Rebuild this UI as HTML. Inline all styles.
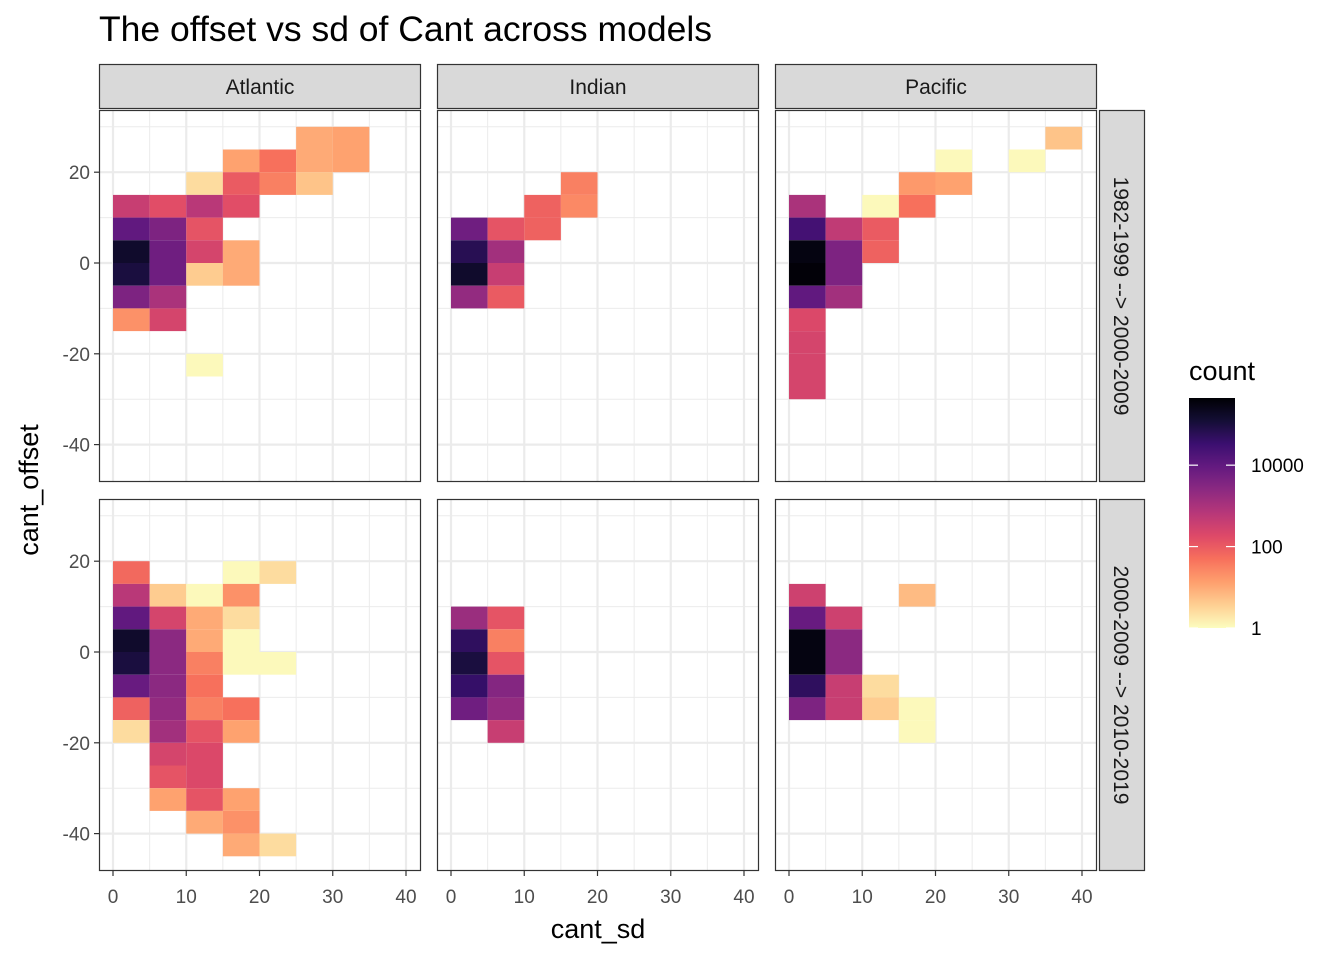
<!DOCTYPE html>
<html><head><meta charset="utf-8">
<style>
html,body{margin:0;padding:0;background:#fff;}
svg{display:block;font-family:"Liberation Sans",sans-serif;}
</style></head>
<body>
<svg id="chart" width="1344" height="960" viewBox="0 0 1344 960">
<defs>
<linearGradient id="leg" x1="0" y1="1" x2="0" y2="0"></linearGradient>
</defs>
<text x="99" y="41" font-size="35.5" fill="#000">The offset vs sd of Cant across models</text>
<text x="598" y="938" font-size="27" text-anchor="middle" fill="#000">cant_sd</text>
<text transform="translate(38,490) rotate(-90)" font-size="27" text-anchor="middle" fill="#000">cant_offset</text>
<g id="panels"></g>
<g id="legend"></g>
</svg>
<script>
// ---- data (x bin start, y bin start, log10(count)) ----
const basins = ["Atlantic","Indian","Pacific"];
const periods = ["1982-1999 --> 2000-2009","2000-2009 --> 2010-2019"];
const xTicks = [0,10,20,30,40];
const yTicks = [20,0,-20,-40];
const legendTicks = [1,100,10000];

const atlTopX = [25,30,15,20,25,30,10,15,20,25,0,5,10,15,0,5,10,0,5,10,15,0,5,10,15,0,5,0,5,10];
const atlTopY = [25,25,20,20,20,20,15,15,15,15,10,10,10,10,5,5,5,0,0,0,0,-5,-5,-5,-5,-10,-10,-15,-15,-25];
const atlTopV = [1.0,1.1,1.1,1.7,1.0,1.1,0.4,2.0,1.5,0.7,2.6,2.2,2.8,2.2,4.0,3.6,2.1,5.2,3.8,2.4,1.0,5.0,3.8,0.6,1.0,3.6,3.0,1.3,2.4,0.05];

const indTopX = [15,10,15,0,5,10,0,5,0,5,0,5];
const indTopY = [15,10,10,5,5,5,0,0,-5,-5,-10,-10];
const indTopV = [1.5,1.9,1.4,3.8,2.1,1.9,4.8,3.1,5.2,2.6,3.3,2.0];

const pacTopX = [35,20,30,15,20,0,10,15,0,5,10,0,5,10,0,5,0,5,0,0,0,0];
const pacTopY = [25,20,20,15,15,10,10,10,5,5,5,0,0,0,-5,-5,-10,-10,-15,-20,-25,-30];
const pacTopV = [0.7,0.05,0.05,1.2,1.1,3.0,0.05,1.7,4.4,2.7,2.0,5.5,3.6,1.9,5.6,3.6,4.0,3.1,2.3,2.4,2.4,2.4];

const atlBotX = [0,15,20,0,5,10,15,0,5,10,15,0,5,10,15,0,5,10,15,20,0,5,10,0,5,10,15,0,5,10,15,5,10,5,10,5,10,15,10,15,15,20];
const atlBotY = [15,15,15,10,10,10,10,5,5,5,5,0,0,0,0,-5,-5,-5,-5,-5,-10,-10,-10,-15,-15,-15,-15,-20,-20,-20,-20,-25,-25,-30,-30,-35,-35,-35,-40,-40,-45,-45];
const atlBotV = [1.8,0.05,0.4,2.8,0.6,0.05,1.3,4.0,2.4,1.0,0.4,5.2,3.4,1.0,0.05,5.0,3.4,1.5,0.05,0.05,3.9,3.4,1.7,1.9,3.3,1.5,1.7,0.4,3.1,2.1,1.1,2.4,2.3,2.1,2.3,1.1,2.1,1.1,1.0,1.3,1.0,0.4];

const indBotX = [0,5,0,5,0,5,0,5,0,5,5];
const indBotY = [5,5,0,0,-5,-5,-10,-10,-15,-15,-20];
const indBotV = [3.2,2.1,4.7,1.5,5.0,2.1,4.6,3.5,3.8,3.3,2.6];

const pacBotX = [0,15,0,5,0,5,0,5,0,5,10,0,5,10,15,15];
const pacBotY = [10,10,5,5,0,0,-5,-5,-10,-10,-10,-15,-15,-15,-15,-20];
const pacBotV = [2.5,0.8,3.9,2.5,5.5,3.4,5.5,3.4,4.7,2.6,0.4,3.6,2.6,0.6,0.05,0.05];

const panelData = [
  [[atlTopX,atlTopY,atlTopV],[indTopX,indTopY,indTopV],[pacTopX,pacTopY,pacTopV]],
  [[atlBotX,atlBotY,atlBotV],[indBotX,indBotY,indBotV],[pacBotX,pacBotY,pacBotV]]
];

// ---- scales ----
const NS="http://www.w3.org/2000/svg";
const magma=["#fcfdbf","#fecf92","#fe9f6d","#f7705c","#de4968","#b73779","#8c2981","#641a80","#3b0f70","#140e36","#000004"];
const VMAX=5.65;
function hex(c){return [parseInt(c.slice(1,3),16),parseInt(c.slice(3,5),16),parseInt(c.slice(5,7),16)];}
function color(v){
  let t=Math.max(0,Math.min(1,v/VMAX))*(magma.length-1);
  let i=Math.min(Math.floor(t),magma.length-2),f=t-i;
  let a=hex(magma[i]),b=hex(magma[i+1]);
  return "rgb("+a.map((x,k)=>Math.round(x+(b[k]-x)*f)).join(",")+")";
}
const panelX=[99,437,775], panelW=322;
const panelY=[110,499], panelH=372;
function xs(p,v){return panelX[p]+14+v*7.325;}
function ys(r,v){return (r===0?263:652)-v*4.54;}
function el(tag,attrs,parent){const e=document.createElementNS(NS,tag);for(const k in attrs)e.setAttribute(k,attrs[k]);parent.appendChild(e);return e;}

const G=document.getElementById("panels");
basins.forEach((b,p)=>{
  const s=el("rect",{x:panelX[p]+0.5,y:64.5,width:panelW-1,height:44,fill:"#d9d9d9",stroke:"#333","stroke-width":1.2},G);
  
  
  const t=el("text",{x:panelX[p]+panelW/2,y:94,"font-size":21,"text-anchor":"middle",fill:"#1a1a1a"},G);
  t.textContent=b;
  
  
});
periods.forEach((pd,r)=>{
  const s=el("rect",{x:1099.5,y:panelY[r]+0.5,width:45,height:panelH-1,fill:"#d9d9d9",stroke:"#333","stroke-width":1.2},G);
  
  
  const cy=panelY[r]+panelH/2;
  const t=el("text",{transform:"translate(1114,"+cy+") rotate(90)","font-size":21,"text-anchor":"middle",fill:"#1a1a1a"},G);
  t.textContent=pd;
  
  
});

for(let r=0;r<2;r++){
  for(let p=0;p<3;p++){
    const g=el("g",{},G);
    
    
    const x0=panelX[p],y0=panelY[r];
    el("rect",{x:x0,y:y0,width:panelW,height:panelH,fill:"#fff"},g);
    for(let v=5;v<=35;v+=10) el("line",{x1:xs(p,v),x2:xs(p,v),y1:y0,y2:y0+panelH,stroke:"#ebebeb","stroke-width":1},g);
    for(let v=30;v>=-50;v-=20){const y=ys(r,v);if(y>y0&&y<y0+panelH)el("line",{x1:x0,x2:x0+panelW,y1:y,y2:y,stroke:"#ebebeb","stroke-width":1},g);}
    xTicks.forEach(v=>el("line",{x1:xs(p,v),x2:xs(p,v),y1:y0,y2:y0+panelH,stroke:"#ebebeb","stroke-width":2.2},g));
    yTicks.forEach(v=>el("line",{x1:x0,x2:x0+panelW,y1:ys(r,v),y2:ys(r,v),stroke:"#ebebeb","stroke-width":2.2},g));
    const [X,Y,V]=panelData[r][p];
    for(let i=0;i<X.length;i++){
      const rx=xs(p,X[i]),ry=ys(r,Y[i]+5);
      const t=el("rect",{x:rx,y:ry,width:xs(p,X[i]+5)-rx,height:ys(r,Y[i])-ry,fill:color(V[i])},g);
      
      
    }
    el("rect",{x:x0+0.5,y:y0+0.5,width:panelW-1,height:panelH-1,fill:"none",stroke:"#333","stroke-width":1.2},g);
    if(r===1){
      xTicks.forEach(v=>{
        el("line",{x1:xs(p,v),x2:xs(p,v),y1:y0+panelH,y2:y0+panelH+5,stroke:"#333","stroke-width":1.2},g);
        const t=el("text",{x:xs(p,v),y:903,"font-size":19,"text-anchor":"middle",fill:"#4d4d4d"},g);
        t.textContent=v;
        
        
      });
    }
    if(p===0){
      yTicks.forEach(v=>{
        el("line",{x1:x0-5,x2:x0,y1:ys(r,v),y2:ys(r,v),stroke:"#333","stroke-width":1.2},g);
        const t=el("text",{x:x0-9,y:ys(r,v)+7,"font-size":19,"text-anchor":"end",fill:"#4d4d4d"},g);
        t.textContent=v;
        
        
      });
    }
  }
}

const grad=document.getElementById("leg");
for(let i=0;i<=20;i++){el("stop",{offset:(i/20),"stop-color":color(VMAX*i/20)},grad);}
const L=document.getElementById("legend");
const lt=el("text",{x:1189,y:380,"font-size":27,fill:"#000"},L);
lt.textContent="count";


const bar=el("rect",{x:1189,y:398,width:46,height:230,fill:"url(#leg)"},L);


function ly(c){return 628-Math.log10(c)*(230/VMAX);}
legendTicks.forEach(c=>{
  const y=ly(c);
  el("line",{x1:1189,x2:1198,y1:y,y2:y,stroke:"#fff","stroke-width":1.2},L);
  el("line",{x1:1226,x2:1235,y1:y,y2:y,stroke:"#fff","stroke-width":1.2},L);
  const t=el("text",{x:1251,y:y+7,"font-size":19,fill:"#000"},L);
  t.textContent=c;
  
  
});
</script>
</body></html>
